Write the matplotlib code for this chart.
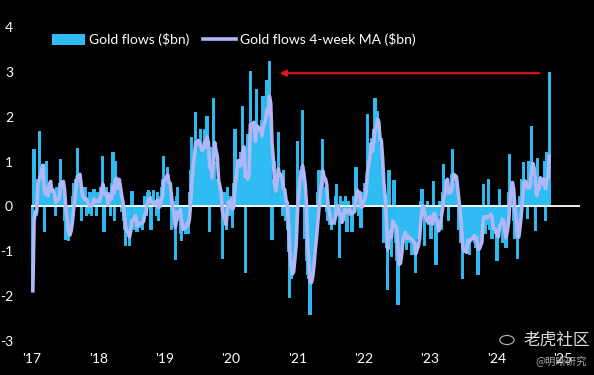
import matplotlib
matplotlib.use("Agg")
import matplotlib.pyplot as plt
from matplotlib.patches import Patch, Circle
from matplotlib.lines import Line2D
import pandas as pd

# Weekly gold flows ($bn), one list per year
flows_2017 = [-1.88, 1.25, 0.3, -0.2, 0.6, 1.65, 0.7, 0.4, 0.92, -0.55, 0.3, 0.98, 0.2,
              0.5, 0.55, 0.1, 0.3, 0.15, -0.2, 0.4, 0.2, 0.5, 1.03, 0.2, 0.5, -0.3,
              -0.72, -0.5, -0.75, -0.6, -0.4, 0.2, 0.5, 0.3, 0.6, 1.27, 0.4, 0.6, -0.3,
              0.3, 0.2, 0.4, -0.2, 0.1, -0.15, 0.3, -0.2, 0.2, 0.36, 0.1, -0.2, 0.3]
flows_2018 = [0.2, 0.4, 0.3, 1.1, -0.55, 0.2, 0.4, 0.1, 0.3, -0.2, 0.5, 1.2, -0.3,
              1.0, 0.6, 0.3, 0.5, 0.2, -0.1, -0.3, -0.5, -0.87, -0.6, -0.4, -0.87, -0.3,
              0.33, -0.4, -0.5, -0.3, -0.55, -0.2, -0.45, -0.3, -0.5, -0.1, 0.2, -0.2, 0.3,
              0.35, 0.3, -0.5, 0.2, 0.35, 0.1, -0.2, 0.3, -0.3, 0.2, 0.4, 0.6, 1.1]
flows_2019 = [0.3, 0.6, 0.85, 0.4, 0.2, -0.5, -0.3, 0.1, -1.18, 0.2, 0.4, -0.3, -0.6,
              -0.75, -0.4, -0.2, -0.6, -0.3, -0.6, 0.3, 0.8, 1.52, 0.9, 1.2, 2.08, 1.4,
              1.2, 1.0, 1.7, 1.1, 1.3, 1.7, 1.2, 2.0, 0.8, -0.55, 1.3, 1.0, 2.4,
              1.0, 0.6, 0.5, 0.3, 0.4, 0.1, -1.15, -0.3, 0.3, -0.5, 0.4, 0.2, -0.2]
flows_2020 = [0.2, -0.45, 0.5, 1.7, 0.8, 1.0, 0.6, 1.2, 0.9, 2.22, 1.0, -1.47, 1.3,
              1.6, 1.4, 3.0, 1.2, 1.8, 1.5, 1.3, 2.6, 1.7, 1.2, 1.5, 1.9, 2.44,
              1.6, 1.8, 2.8, 2.0, 3.22, 1.2, -0.73, 0.6, 1.0, 0.5, 0.2, 1.64, 0.4,
              0.6, -0.2, 0.8, 0.3, -0.3, -0.5, -1.0, -2.03, -1.6, -1.4, -0.8, -0.9, -0.3]
flows_2021 = [1.43, 0.8, 0.3, 0.4, 2.12, 0.2, -0.7, -1.2, -1.5, -1.6, -2.4, -1.3, -1.0,
              -0.6, -1.0, -0.2, 0.3, 0.8, 0.5, 0.4, 1.47, 0.2, 0.4, -0.1, -0.3, -0.4,
              -0.3, -0.5, -0.2, -0.4, 0.2, 0.47, -0.2, -1.13, 0.2, -0.3, 0.1, -0.3, 0.2,
              -0.55, 0.1, 0.0, -0.2, -0.55, 0.2, 0.1, 0.85, 0.3, -0.2, 0.3, -0.45, 0.3]
flows_2022 = [0.3, 0.5, 0.2, 2.03, 0.9, 1.2, 1.5, 1.3, 1.7, 2.4, 1.6, 2.1, 1.4,
              0.8, 1.5, 0.5, -0.8, -0.3, -0.9, -1.83, 0.8, -0.6, -1.1, -0.4, 0.56, -0.8,
              -1.2, -2.17, -1.0, -0.7, -0.4, -0.8, -0.6, -0.5, -0.95, -0.6, -0.8, -0.5, -1.05,
              -0.8, -0.9, -1.47, -0.7, -0.5, -0.2, 0.1, 0.36, -0.2, -0.85, -0.3, 0.1, -0.4]
flows_2023 = [-0.3, -0.7, -0.2, 0.54, -0.3, -1.28, -0.4, -0.2, 0.1, -0.5, 0.3, 0.92, 0.4,
              0.6, 0.5, -0.3, 0.4, 0.7, 1.25, 0.5, 0.3, 0.6, 0.2, -0.5, -0.8, -0.7,
              -1.6, -0.9, -0.7, -0.9, -0.5, -1.05, -0.6, -0.7, -0.5, -0.8, -0.9, -0.6, -1.5,
              -0.8, -0.6, -0.3, 0.47, -0.5, -0.6, -0.4, 0.6, -0.5, -0.4, -0.7, -0.3, -0.6]
flows_2024 = [-0.5, -1.2, -0.4, 0.36, -0.3, -0.8, -0.5, -0.6, -0.9, -0.2, 0.3, 1.14, 0.2,
              0.5, -0.3, -0.7, -0.5, -1.14, -0.4, 0.2, 0.6, 0.3, 0.96, 0.4, 0.5, -0.25,
              0.98, 0.6, 1.76, 0.5, 0.6, -0.52, 0.4, 1.05, 0.6, 0.5, 0.3, 0.6, 0.98,
              -0.3, 1.2, 0.6, 2.97]

start_date = "2017-01-06"
year_ticks = ["2017", "2018", "2019", "2020", "2021", "2022", "2023", "2024", "2025"]
year_labels = ["'17", "'18", "'19", "'20", "'21", "'22", "'23", "'24", "'25"]
y_ticks = [-3, -2, -1, 0, 1, 2, 3, 4]
arrow_from = "2024-08-25"
arrow_to = "2020-09-25"
arrow_level = 2.97

flows = (flows_2017 + flows_2018 + flows_2019 + flows_2020 + flows_2021
         + flows_2022 + flows_2023 + flows_2024)
dates = pd.date_range(start_date, periods=len(flows), freq="7D")
s = pd.Series(flows, index=dates)
ma4 = s.rolling(4, min_periods=1).mean()

CYAN = "#2EBCF2"
LAV = "#B0B7F7"
BG = "black"

plt.rcParams["font.family"] = ["Lato", "DejaVu Sans"]

fig = plt.figure(figsize=(5.94, 3.75), dpi=100, facecolor=BG)
ax = fig.add_axes([31 / 594, 0.0907, (580 - 31) / 594, 0.928 - 0.0907], facecolor=BG)

ax.bar(dates, s.values, width=7, color=CYAN, edgecolor=CYAN, linewidth=1.4, zorder=2)
ax.axhline(0, color="white", lw=1.3, zorder=3)
ax.plot(dates, ma4.values, color=LAV, lw=2.6, zorder=4, solid_joinstyle="round")

ax.annotate("", xy=(pd.Timestamp(arrow_to), arrow_level),
            xytext=(pd.Timestamp(arrow_from), arrow_level),
            arrowprops=dict(arrowstyle="-|>", color="#E0141E", lw=1.5,
                            mutation_scale=9, shrinkA=0, shrinkB=0), zorder=5)

ax.set_ylim(-3, 4)
ax.set_xlim(pd.Timestamp("2016-12-27"), pd.Timestamp("2025-04-05"))
ax.set_yticks(y_ticks)
ax.set_yticklabels([str(v) for v in y_ticks])
ax.set_xticks([pd.Timestamp(y + "-01-01") for y in year_ticks])
ax.set_xticklabels(year_labels)
ax.tick_params(colors="white", labelsize=10, length=0)
ax.tick_params(axis="y", pad=13)
ax.tick_params(axis="x", pad=9)
for sp in ax.spines.values():
    sp.set_visible(False)

handles = [Patch(facecolor=CYAN, edgecolor="none"),
           Line2D([0], [0], color=LAV, lw=2.6)]
fig.legend(handles, ["Gold flows ($bn)", "Gold flows 4-week MA ($bn)"],
           loc="center left", bbox_to_anchor=(52 / 594, 1 - 40 / 375), ncol=2,
           frameon=False, fontsize=10, labelcolor="white", borderpad=0,
           borderaxespad=0, handlelength=2.4, handleheight=0.8,
           handletextpad=0.25, columnspacing=1.0)

# watermark
fig.text(523 / 594, 1 - 340 / 375, "老虎社区", color="#DDDDDD", fontsize=12,
         family=["Noto Sans CJK SC", "DejaVu Sans"], va="center", ha="left")
fig.patches.append(Circle((507 / 594, 1 - 340 / 375), 0.012,
                   transform=fig.transFigure, fill=False, edgecolor="#BBBBBB", lw=0.8))
fig.text(535 / 594, 1 - 361 / 375, "@明晰研究", color="#AAAAAA", fontsize=7.5,
         family=["Noto Sans CJK SC", "DejaVu Sans"], va="center", ha="left")

fig.savefig("out.png", dpi=100, facecolor=BG)
